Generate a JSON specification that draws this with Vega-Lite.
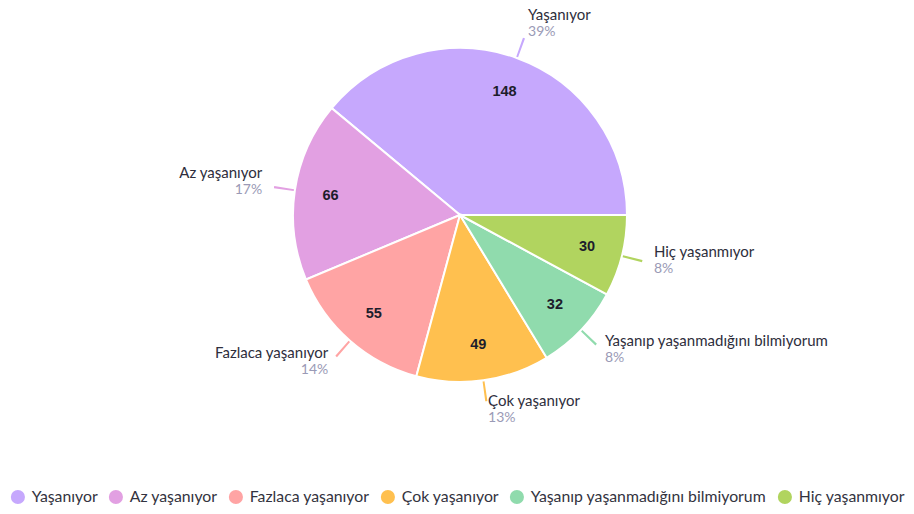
{
  "$schema": "https://vega.github.io/schema/vega-lite/v6.json",
  "width": 920,
  "height": 430,
  "padding": 0,
  "autosize": {"type": "pad"},
  "background": "white",
  "config": {"view": {"stroke": null}, "font": "Lato"},
  "data": {
    "values": [
      {"cat": "Yaşanıyor", "value": 148},
      {"cat": "Az yaşanıyor", "value": 66},
      {"cat": "Fazlaca yaşanıyor", "value": 55},
      {"cat": "Çok yaşanıyor", "value": 49},
      {"cat": "Yaşanıp yaşanmadığını bilmiyorum", "value": 32},
      {"cat": "Hiç yaşanmıyor", "value": 30}
    ]
  },
  "transform": [
    {"window": [{"op": "sum", "field": "value", "as": "cum"}], "frame": [null, 0]},
    {"joinaggregate": [{"op": "sum", "field": "value", "as": "total"}]},
    {"calculate": "datum.cum - datum.value", "as": "start"},
    {"calculate": "datum.cum - datum.value / 2", "as": "mid"},
    {"calculate": "datum.mid - 0.35", "as": "c1"},
    {"calculate": "datum.mid + 0.35", "as": "c2"},
    {"calculate": "round(datum.value / datum.total * 100) + '%'", "as": "pct"}
  ],
  "layer": [
    {
      "mark": {"type": "arc", "outerRadius": 167, "stroke": "white", "strokeWidth": 2},
      "encoding": {
        "theta": {"field": "start", "type": "quantitative", "stack": null, "scale": {"domain": [0, 380], "range": [1.5707963, -4.7123890], "nice": false, "zero": false}},
        "theta2": {"field": "cum"},
        "color": {
          "field": "cat",
          "type": "nominal",
          "scale": {
            "domain": ["Yaşanıyor", "Az yaşanıyor", "Fazlaca yaşanıyor", "Çok yaşanıyor", "Yaşanıp yaşanmadığını bilmiyorum", "Hiç yaşanmıyor"],
            "range": ["#c6a8fd", "#e2a0e2", "#ffa4a4", "#ffc04f", "#90dbad", "#b1d45f"]
          },
          "legend": {
            "title": null,
            "orient": "none",
            "legendX": 10,
            "legendY": 489,
            "direction": "horizontal",
            "symbolType": "circle",
            "symbolSize": 200,
            "symbolStrokeWidth": 0,
            "symbolOpacity": 1,
            "labelFontSize": 15.8,
            "labelColor": "#333340",
            "labelFont": "Lato",
            "labelLimit": 400,
            "labelOffset": 6,
            "columnPadding": 10,
            "padding": 0
          }
        }
      }
    },
    {
      "mark": {"type": "arc", "innerRadius": 168, "outerRadius": 188},
      "encoding": {
        "theta": {"field": "c1", "type": "quantitative", "stack": null},
        "theta2": {"field": "c2"},
        "color": {"field": "cat", "type": "nominal"}
      }
    },
    {
      "mark": {"type": "text", "radius": 131, "fontSize": 14.5, "fontWeight": "bold", "color": "#1d1d2c", "font": "Liberation Sans"},
      "encoding": {
        "theta": {"field": "mid", "type": "quantitative", "stack": null},
        "text": {"field": "value", "type": "quantitative"}
      }
    },
    {
      "transform": [{"filter": {"not": {"field": "cat", "oneOf": ["Az yaşanıyor", "Fazlaca yaşanıyor"]}}}],
      "mark": {"type": "text", "radius": 200, "align": "left", "baseline": "middle", "dy": -12, "fontSize": 15, "color": "#2e2e3c"},
      "encoding": {
        "theta": {"field": "mid", "type": "quantitative", "stack": null},
        "text": {"field": "cat", "type": "nominal"}
      }
    },
    {
      "transform": [{"filter": {"not": {"field": "cat", "oneOf": ["Az yaşanıyor", "Fazlaca yaşanıyor"]}}}],
      "mark": {"type": "text", "radius": 200, "align": "left", "baseline": "middle", "dy": 5, "fontSize": 14, "color": "#9a9ab6"},
      "encoding": {
        "theta": {"field": "mid", "type": "quantitative", "stack": null},
        "text": {"field": "pct", "type": "nominal"}
      }
    },
    {
      "transform": [{"filter": {"field": "cat", "oneOf": ["Az yaşanıyor", "Fazlaca yaşanıyor"]}}],
      "mark": {"type": "text", "radius": 200, "align": "right", "baseline": "middle", "dy": -12, "fontSize": 15, "color": "#2e2e3c"},
      "encoding": {
        "theta": {"field": "mid", "type": "quantitative", "stack": null},
        "text": {"field": "cat", "type": "nominal"}
      }
    },
    {
      "transform": [{"filter": {"field": "cat", "oneOf": ["Az yaşanıyor", "Fazlaca yaşanıyor"]}}],
      "mark": {"type": "text", "radius": 200, "align": "right", "baseline": "middle", "dy": 5, "fontSize": 14, "color": "#9a9ab6"},
      "encoding": {
        "theta": {"field": "mid", "type": "quantitative", "stack": null},
        "text": {"field": "pct", "type": "nominal"}
      }
    }
  ]
}
